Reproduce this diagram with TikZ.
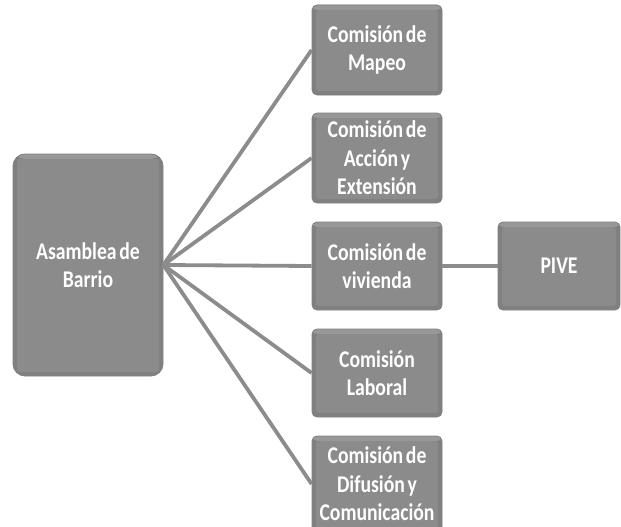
\documentclass[tikz,border=0pt]{standalone}
\usepackage{fontspec}
\setmainfont{Carlito}[FakeStretch=0.82,WordSpace=0.6]
\definecolor{boxgray}{RGB}{139,139,139}
\definecolor{edgegray}{RGB}{128,128,128}
\definecolor{bevtop}{RGB}{152,152,152}
\definecolor{linegray}{RGB}{140,140,140}
\tikzset{
  box/.style={rectangle, rounded corners=5pt, fill=edgegray, draw=edgegray, line width=0.8pt,
    text=white, font=\bfseries\fontsize{24}{28.5}\selectfont, align=center, inner sep=0pt,
    path picture={
      \fill[bevtop] (path picture bounding box.north west) rectangle ([yshift=-5pt]path picture bounding box.north east);
      \fill[boxgray, rounded corners=3pt] ([shift={(4pt,-5pt)}]path picture bounding box.north west) rectangle ([shift={(-4pt,4pt)}]path picture bounding box.south east);
    }},
  com/.style={box, minimum width=130pt},
  link/.style={draw=linegray, line width=3.8pt}
}
\begin{document}
\begin{tikzpicture}[x=1pt,y=-1pt]
\useasboundingbox (0,0) rectangle (621,527);
\clip (0,0) rectangle (621,527);
\node[box, minimum width=150pt, minimum height=222pt, rounded corners=12pt] (A) at (88,265) {Asamblea de\\Barrio};
\node[com, minimum height=90pt] (c1) at (377,50) {Comisión de\\Mapeo};
\node[com, minimum height=90pt] (c2) at (377,158) {Comisión de\\Acción y\\Extensión};
\node[com, minimum height=88pt] (c3) at (377,266) {Comisión de\\vivienda};
\node[com, minimum height=88pt] (c4) at (377,373) {Comisión\\Laboral};
\node[com, minimum height=96pt] (c5) at (377,484) {Comisión de\\Difusión y\\Comunicación};
\node[box, minimum width=122pt, minimum height=88pt] (P) at (559,266) {PIVE};
\coordinate (O) at (A.east);
\foreach \c in {c1,c2,c3,c4,c5}{\draw[link] (O) -- (\c.west);}
\draw[link] (c3.east) -- (P.west);
\end{tikzpicture}
\end{document}
